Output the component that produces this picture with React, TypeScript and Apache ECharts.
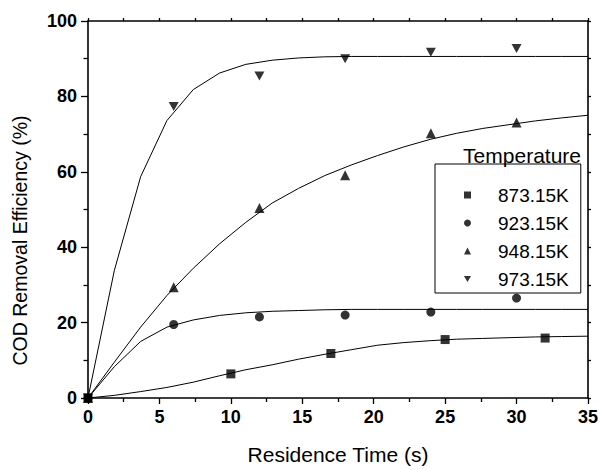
import React, { useEffect, useRef } from "react";
import * as echarts from "echarts";

// Measured points
const t873 = [0, 10, 17, 25, 32];
const y873 = [0, 6.4, 11.8, 15.5, 15.9];
const t923 = [0, 6, 12, 18, 24, 30];
const y923 = [0, 19.5, 21.5, 22.0, 22.8, 26.5];
const t948 = [0, 6, 12, 18, 24, 30];
const y948 = [0, 29.4, 50.4, 59.1, 70.2, 73.1];
const t973 = [0, 6, 12, 18, 24, 30];
const y973 = [0, 77.3, 85.4, 90.0, 91.7, 92.7];

// Fitted curves
const tFit = [0, 1.842, 3.684, 5.526, 7.368, 9.211, 11.05, 12.89, 14.74, 16.58, 18.42, 20.26, 22.11, 23.95, 25.79, 27.63, 29.47, 31.32, 33.16, 35];
const fit873 = [0, 0.7, 1.7, 2.8, 4.2, 5.9, 7.5, 8.8, 10.3, 11.6, 12.8, 14.0, 14.7, 15.2, 15.6, 15.8, 16.0, 16.2, 16.3, 16.4];
const fit923 = [0, 8.3, 15.0, 18.8, 20.7, 21.9, 22.6, 23.0, 23.2, 23.4, 23.5, 23.5, 23.5, 23.5, 23.5, 23.5, 23.5, 23.5, 23.5, 23.5];
const fit948 = [0, 9.5, 18.8, 27.2, 34.4, 40.9, 46.6, 51.7, 55.6, 59.0, 61.8, 64.3, 66.6, 68.6, 70.2, 71.5, 72.5, 73.5, 74.3, 75.0];
const fit973 = [0, 33.8, 58.7, 73.6, 81.8, 86.2, 88.5, 89.6, 90.2, 90.5, 90.6, 90.6, 90.6, 90.6, 90.6, 90.6, 90.6, 90.6, 90.6, 90.6];

const seriesNames = ["873.15K", "923.15K", "948.15K", "973.15K"];
const xTicks = { min: 0, max: 35, interval: 5 };
const yTicks = { min: 0, max: 100, interval: 20 };

const DOWN_TRI = "path://M0,0L2,0L1,1.732Z";
const FONT = "'Liberation Sans', Arial, Helvetica, sans-serif";

const zip = (xs: number[], ys: number[]) => xs.map((x, i) => [x, ys[i]]);

export default function App() {
  const ref = useRef<HTMLDivElement>(null);
  useEffect(() => {
    if (!ref.current) return;
    const chart = echarts.init(ref.current, undefined, { renderer: "svg" });
    const black = "#000";
    const symbols = ["rect", "circle", "triangle", DOWN_TRI];
    const sizes = [9, 9, 10, [10, 9]];
    const pts = [zip(t873, y873), zip(t923, y923), zip(t948, y948), zip(t973, y973)];
    const fits = [fit873, fit923, fit948, fit973];

    const scatter = seriesNames.map((name, i) => ({
      name,
      type: "scatter",
      data: pts[i],
      symbol: symbols[i],
      symbolSize: sizes[i],
      itemStyle: { color: black },
      z: 5,
    }));
    const lines = seriesNames.map((name, i) => ({
      name: name + " fit",
      type: "line",
      data: zip(tFit, fits[i]),
      showSymbol: false,
      symbol: "none",
      lineStyle: { color: black, width: 1 },
      itemStyle: { color: black },
      z: 3,
    }));

    const axisLine = { show: true, onZero: false, lineStyle: { color: black, width: 1.6 } };

    chart.setOption({
      animation: false,
      backgroundColor: "#fff",
      textStyle: { fontFamily: FONT },
      grid: { left: 88, right: 12, top: 21, bottom: 68, containLabel: false },
      xAxis: [
        {
          type: "value",
          ...xTicks,
          position: "bottom",
          name: "Residence Time (s)",
          nameLocation: "middle",
          nameGap: 46,
          nameTextStyle: { fontSize: 21, color: black, fontFamily: FONT },
          axisLine,
          axisTick: { show: true, inside: false, length: 6, lineStyle: { color: black, width: 1.3 } },
          minorTick: { show: true, splitNumber: 2, length: 4, lineStyle: { color: black, width: 1.3 } },
          axisLabel: { fontSize: 18, fontWeight: "bold", color: black, margin: 10, fontFamily: FONT },
          splitLine: { show: false },
          minorSplitLine: { show: false },
        },
        {
          type: "value",
          ...xTicks,
          position: "top",
          axisLine,
          axisTick: { show: true, inside: false, length: 3, lineStyle: { color: black, width: 1.3 } },
          minorTick: { show: true, splitNumber: 2, length: 3, lineStyle: { color: black, width: 1.3 } },
          axisLabel: { show: false },
          splitLine: { show: false },
        },
      ],
      yAxis: [
        {
          type: "value",
          ...yTicks,
          position: "left",
          name: "COD Removal Efficiency (%)",
          nameLocation: "middle",
          nameGap: 58,
          nameRotate: 90,
          nameTextStyle: { fontSize: 19.5, color: black, fontFamily: FONT, padding: [0, 62, 0, 0] },
          axisLine,
          axisTick: { show: true, inside: false, length: 7, lineStyle: { color: black, width: 1.3 } },
          minorTick: { show: true, splitNumber: 2, length: 4.5, lineStyle: { color: black, width: 1.3 } },
          axisLabel: { fontSize: 18, fontWeight: "bold", color: black, margin: 11, fontFamily: FONT },
          splitLine: { show: false },
          minorSplitLine: { show: false },
        },
        {
          type: "value",
          min: 0,
          max: 100,
          interval: 10,
          position: "right",
          axisLine,
          axisTick: { show: true, inside: false, length: 3, lineStyle: { color: black, width: 1.3 } },
          axisLabel: { show: false },
          splitLine: { show: false },
        },
      ],
      legend: {
        data: seriesNames,
        orient: "vertical",
        left: 435,
        top: 164,
        itemWidth: 7,
        itemHeight: 7,
        itemGap: 8,
        padding: [21, 12, 4, 29],
        borderColor: black,
        borderWidth: 1,
        borderRadius: 0,
        backgroundColor: "#fff",
        selectedMode: false,
        textStyle: { fontSize: 19, color: black, fontFamily: FONT, lineHeight: 20, padding: [0, 0, 0, 22] },
      },
      graphic: [
        {
          type: "text",
          x: 581,
          y: 155,
          z: 10,
          style: {
            text: "Temperature",
            fontSize: 21,
            fontFamily: FONT,
            fill: black,
            align: "right",
            verticalAlign: "middle",
          },
        },
      ],
      series: [...lines, ...scatter],
    });
    return () => chart.dispose();
  }, []);
  return (
    <div
      ref={ref}
      style={{ position: "fixed", left: 0, top: 0, width: 601, height: 470, background: "#fff" }}
    />
  );
}
